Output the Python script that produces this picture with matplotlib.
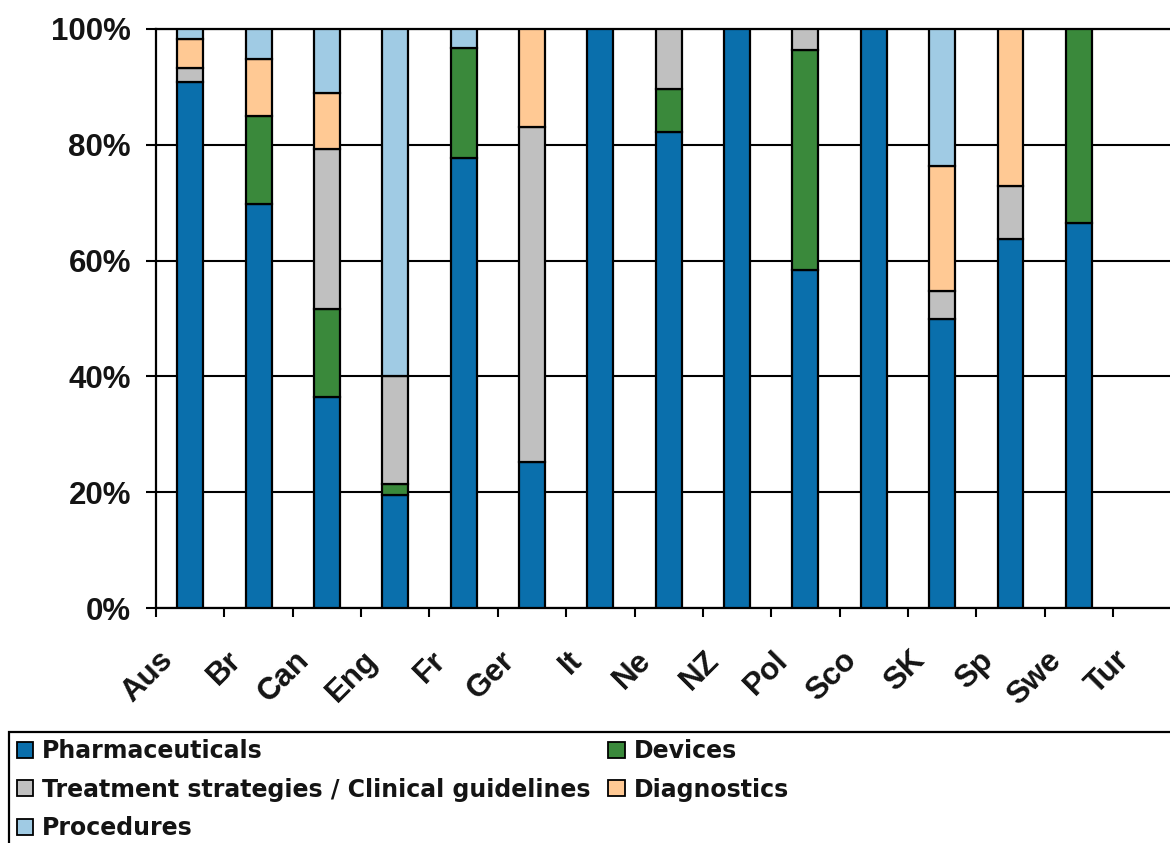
import os
import matplotlib
matplotlib.use("Agg")
import matplotlib.pyplot as plt
from matplotlib.patches import Patch, Rectangle
from matplotlib.transforms import ScaledTranslation
from matplotlib.font_manager import FontProperties, findSystemFonts
import numpy as np

# Countries along the x axis
countries = ["Aus", "Br", "Can", "Eng", "Fr", "Ger", "It", "Ne", "NZ",
             "Pol", "Sco", "SK", "Sp", "Swe", "Tur"]

# Share of each innovation type per country (%)
pharmaceuticals = [90.9, 69.8, 36.5, 19.5, 77.8, 25.3, 100.0, 82.2, 100.0,
                   58.3, 100.0, 49.9, 63.7, 66.5, 0.0]
devices = [0.0, 15.2, 15.1, 1.9, 19.0, 0.0, 0.0, 7.4, 0.0,
           38.1, 0.0, 0.0, 0.0, 33.5, 0.0]
treatment = [2.4, 0.0, 27.7, 18.6, 0.0, 57.8, 0.0, 10.4, 0.0,
             3.6, 0.0, 4.9, 9.2, 0.0, 0.0]
diagnostics = [5.0, 9.8, 9.6, 0.0, 0.0, 16.9, 0.0, 0.0, 0.0,
               0.0, 0.0, 21.5, 27.1, 0.0, 0.0]
procedures = [1.7, 5.2, 11.1, 60.0, 3.2, 0.0, 0.0, 0.0, 0.0,
              0.0, 0.0, 23.7, 0.0, 0.0, 0.0]

series = [
    ("Pharmaceuticals", pharmaceuticals, "#0A6FAC"),
    ("Devices", devices, "#3A893B"),
    ("Treatment strategies / Clinical guidelines", treatment, "#C0C0C0"),
    ("Diagnostics", diagnostics, "#FFC994"),
    ("Procedures", procedures, "#A0CBE4"),
]


def bold_sans(size):
    """Regular-width Liberation Sans Bold, picked by file name."""
    for path in findSystemFonts():
        if os.path.basename(path) == "LiberationSans-Bold.ttf":
            return FontProperties(fname=path, size=size)
    return FontProperties(family="Liberation Sans", weight="bold", size=size)


W, H = 1170, 843
fig = plt.figure(figsize=(W / 100, H / 100), dpi=100)
fig.patch.set_facecolor("white")

left_px, top_px, bottom_px = 156, 29, 608
slot_px = 68.36
ax = fig.add_axes([left_px / W, 1 - bottom_px / H,
                   (W - left_px) / W, (bottom_px - top_px) / H])

text_color = "#141414"
tick_font = bold_sans(22.5)

x = np.arange(len(countries))
bottom = np.zeros(len(countries))
for name, vals, color in series:
    vals = np.asarray(vals, dtype=float)
    mask = vals > 0
    ax.bar(x[mask] + 0.5, vals[mask], width=0.38, bottom=bottom[mask],
           color=color, edgecolor="black", linewidth=1.6, zorder=3)
    bottom += vals

ax.set_xlim(0, (W - left_px) / slot_px)
ax.set_ylim(0, 100)

# Axes frame and grid
ax.set_axisbelow(True)
ax.yaxis.grid(True, color="black", linewidth=1.5, zorder=0)
ax.xaxis.grid(False)
for side in ("left", "bottom", "top"):
    ax.spines[side].set_color("black")
    ax.spines[side].set_linewidth(1.6)
ax.spines["right"].set_visible(False)

ax.set_yticks([0, 20, 40, 60, 80, 100])
ax.set_yticklabels([f"{v}%" for v in [0, 20, 40, 60, 80, 100]])
ax.tick_params(axis="y", length=7, width=1.5, direction="out", pad=11,
               colors="black")
ax.tick_params(axis="x", length=6.5, width=1.5, direction="out", pad=28,
               colors="black")
for lab in ax.get_yticklabels():
    lab.set_fontproperties(tick_font)
    lab.set_color(text_color)

ax.set_xticks(x)
ax.set_xticklabels(countries)
shift = ScaledTranslation(12 / 100, 0, fig.dpi_scale_trans)
for lab in ax.get_xticklabels():
    lab.set_fontproperties(tick_font)
    lab.set_color(text_color)
    lab.set_rotation(45)
    lab.set_rotation_mode("anchor")
    lab.set_ha("right")
    lab.set_va("center")
    lab.set_transform(lab.get_transform() + shift)

# Legend (row-major look with two columns)
order = [0, 2, 4, 1, 3]
handles = [Patch(facecolor=series[i][2], edgecolor="black", linewidth=1.3)
           for i in order]
labels = [series[i][0] for i in order]
leg_font = FontProperties(family="DejaVu Sans", weight="bold", size=17)
leg = fig.legend(handles, labels, ncol=2, loc="upper left",
                 bbox_to_anchor=(17 / W, 1 - 739 / H), frameon=False,
                 prop=leg_font, handlelength=0.68, handleheight=0.68,
                 handletextpad=0.38, columnspacing=0.76, labelspacing=0.62,
                 borderpad=0, borderaxespad=0)
for t in leg.get_texts():
    t.set_color(text_color)

fig.add_artist(Rectangle((9 / W, -0.05), 1.2, 0.05 + (H - 732) / H,
                         transform=fig.transFigure, fill=False,
                         edgecolor="black", linewidth=1.6, clip_on=False))

fig.savefig("out.png", dpi=100, facecolor="white")
